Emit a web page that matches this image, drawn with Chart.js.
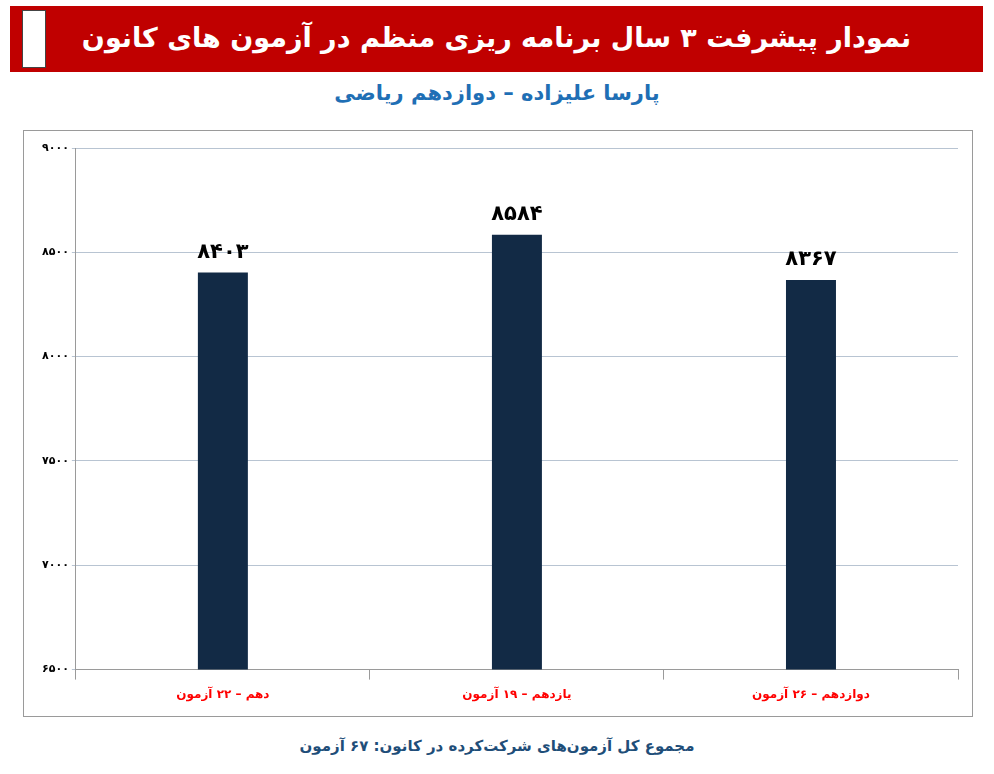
<!DOCTYPE html>
<html><head><meta charset="utf-8">
<script src="https://cdn.jsdelivr.net/npm/chart.js@4"></script>
<style>
body{margin:0;width:994px;height:774px;background:#fff;position:relative;font-family:"DejaVu Sans",sans-serif;overflow:hidden}
#hdr{position:absolute;left:10px;top:6px;width:973px;height:66px;background:#c00000;color:#fff;font-weight:bold;font-size:27px;text-align:center;line-height:64px;direction:rtl;white-space:nowrap}
#logo{position:absolute;left:12px;top:4px;width:22px;height:56px;background:#fff;border:1px solid #444}
#sub{position:absolute;left:0;width:994px;top:81px;text-align:center;color:#1f6fb5;font-weight:bold;font-size:21px;direction:rtl}
#frame{position:absolute;left:23px;top:130px;width:948px;height:585px;border:1px solid #9a9a9a}
#foot{position:absolute;left:0;width:994px;top:737px;text-align:center;color:#1f4e79;font-weight:bold;font-size:15px;direction:rtl}
</style></head><body>
<div id="hdr"><div id="logo"></div>نمودار پیشرفت ۳ سال برنامه ریزی منظم در آزمون های کانون</div>
<div id="sub">پارسا علیزاده – دوازدهم ریاضی</div>
<div id="frame"><canvas id="c" width="948" height="585"></canvas></div>
<div id="foot">مجموع کل آزمون‌های شرکت‌کرده در کانون:  ۶۷ آزمون</div>
<script>
const categories=["دهم – ۲۲ آزمون","یازدهم – ۱۹ آزمون","دوازدهم – ۲۶ آزمون"];
const scores=[8403,8584,8367];
const fa=n=>String(n).replace(/\d/g,d=>"۰۱۲۳۴۵۶۷۸۹"[d]);
const lbl={id:"lbl",afterDatasetsDraw(ch){const c=ch.ctx;c.save();c.font="bold 21px 'DejaVu Sans'";c.fillStyle="#000";c.textAlign="center";c.textBaseline="bottom";
ch.getDatasetMeta(0).data.forEach((b,i)=>c.fillText(fa(scores[i]),b.x,b.y-10));c.restore();}};
new Chart(document.getElementById("c"),{type:"bar",data:{labels:categories,datasets:[{data:scores,backgroundColor:"#122a45",barPercentage:0.17,categoryPercentage:1}]},
options:{responsive:false,animation:false,layout:{padding:{top:17,right:14,left:15,bottom:6}},plugins:{legend:{display:false},tooltip:{enabled:false}},
scales:{x:{grid:{offset:true,drawOnChartArea:false,tickLength:10,color:"#9a9a9a"},border:{color:"#9a9a9a"},ticks:{color:"#ff0000",font:{family:"DejaVu Sans",weight:"bold",size:12},padding:8}},
y:{min:6500,max:9000,ticks:{stepSize:500,callback:v=>fa(v),color:"#000",font:{family:"DejaVu Sans",size:11,weight:"bold"}},grid:{color:"#b8c4d2",tickLength:4},border:{color:"#9a9a9a"}}}},plugins:[lbl]});
</script></body></html>
